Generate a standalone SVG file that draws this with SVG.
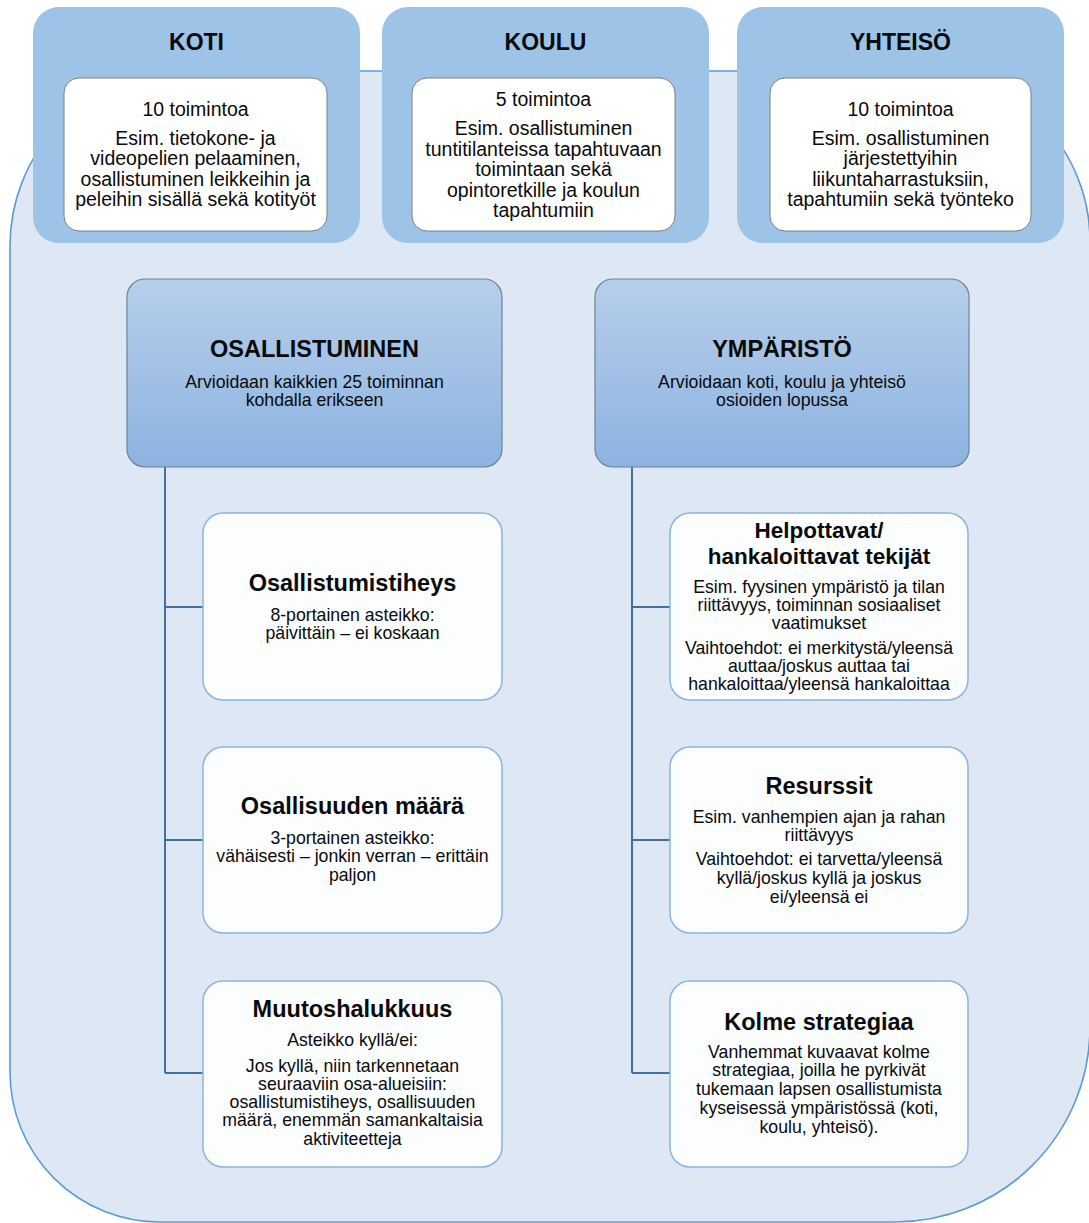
<svg xmlns="http://www.w3.org/2000/svg" width="1089" height="1223" viewBox="0 0 1089 1223">
<defs>
<linearGradient id="hdr" x1="0" y1="0" x2="0" y2="1">
<stop offset="0" stop-color="#b6cfea"/>
<stop offset="1" stop-color="#8db3e1"/>
</linearGradient>
<style>
text{font-family:"Liberation Sans",Arial,sans-serif;fill:#0a0a0a;text-anchor:middle}
.t{font-size:23.5px;font-weight:bold}
.t2{font-size:22.5px;font-weight:bold}
.tt{font-size:23px;font-weight:bold}
.s{font-size:19.5px}
.m{font-size:17.7px}
.outer{fill:#9dc3e6}
.inner{fill:#ffffff;stroke:#7f7f7f;stroke-width:1}
.hdr{fill:url(#hdr);stroke:#6f8296;stroke-width:1.2}
.box{fill:#fbfdff;stroke:#8ab4e1;stroke-width:1.5}
.con{fill:none;stroke:#41719c;stroke-width:2}
</style>
</defs>
<rect width="1089" height="1223" fill="#ffffff"/>
<path id="background" d="M185,71 H920 A170,170 0 0 1 1090,241 V1027 A195,195 0 0 1 895,1222 H160 A150,150 0 0 1 10,1072 V246 A175,175 0 0 1 185,71 Z" fill="#dde8f4" stroke="#5b9bd5" stroke-width="1.6"/>

<g id="koti">
<rect class="outer" x="33" y="7" width="327" height="236" rx="26"/>
<rect class="inner" x="64" y="78" width="263" height="153" rx="15"/>
<text class="tt" x="196.5" y="50">KOTI</text>
<text class="s" x="195.5" y="116">10 toimintoa</text>
<text class="s" x="195.5" y="145">Esim. tietokone- ja</text>
<text class="s" x="195.5" y="165">videopelien pelaaminen,</text>
<text class="s" x="195.5" y="186">osallistuminen leikkeihin ja</text>
<text class="s" x="195.5" y="206">peleihin sisällä sekä kotityöt</text>
</g>

<g id="koulu">
<rect class="outer" x="382" y="7" width="327" height="236" rx="26"/>
<rect class="inner" x="412" y="78" width="263" height="153" rx="15"/>
<text class="tt" x="545.5" y="50">KOULU</text>
<text class="s" x="543.5" y="106">5 toimintoa</text>
<text class="s" x="543.5" y="135">Esim. osallistuminen</text>
<text class="s" x="543.5" y="156">tuntitilanteissa tapahtuvaan</text>
<text class="s" x="543.5" y="176">toimintaan sekä</text>
<text class="s" x="543.5" y="197">opintoretkille ja koulun</text>
<text class="s" x="543.5" y="217">tapahtumiin</text>
</g>

<g id="yhteiso">
<rect class="outer" x="737" y="7" width="327" height="236" rx="26"/>
<rect class="inner" x="770" y="78" width="261" height="153" rx="15"/>
<text class="tt" x="900.5" y="50">YHTEISÖ</text>
<text class="s" x="900.5" y="116">10 toimintoa</text>
<text class="s" x="900.5" y="145">Esim. osallistuminen</text>
<text class="s" x="900.5" y="165">järjestettyihin</text>
<text class="s" x="900.5" y="186">liikuntaharrastuksiin,</text>
<text class="s" x="900.5" y="206">tapahtumiin sekä työnteko</text>
</g>

<g id="connectors">
<path class="con" d="M165,467 V1073 M165,607 H203 M165,840 H203 M165,1073 H203"/>
<path class="con" d="M632,467 V1073 M632,607 H670 M632,840 H670 M632,1073 H670"/>
</g>

<g id="osallistuminen">
<rect class="hdr" x="127" y="279" width="375" height="188" rx="18"/>
<text class="t" x="314.5" y="357">OSALLISTUMINEN</text>
<text class="m" x="314.5" y="388">Arvioidaan kaikkien 25 toiminnan</text>
<text class="m" x="314.5" y="406">kohdalla erikseen</text>
</g>

<g id="ymparisto">
<rect class="hdr" x="595" y="279" width="374" height="188" rx="18"/>
<text class="t" x="782" y="357">YMPÄRISTÖ</text>
<text class="m" x="782" y="388">Arvioidaan koti, koulu ja yhteisö</text>
<text class="m" x="782" y="406">osioiden lopussa</text>
</g>

<g id="osallistumistiheys">
<rect class="box" x="203" y="513" width="299" height="187" rx="20"/>
<text class="t" x="352.5" y="591">Osallistumistiheys</text>
<text class="m" x="352.5" y="621">8-portainen asteikko:</text>
<text class="m" x="352.5" y="639">päivittäin – ei koskaan</text>
</g>

<g id="osallisuuden-maara">
<rect class="box" x="203" y="747" width="299" height="186" rx="20"/>
<text class="t" x="352.5" y="814">Osallisuuden määrä</text>
<text class="m" x="352.5" y="844">3-portainen asteikko:</text>
<text class="m" x="352.5" y="862">vähäisesti – jonkin verran – erittäin</text>
<text class="m" x="352.5" y="881">paljon</text>
</g>

<g id="muutoshalukkuus">
<rect class="box" x="203" y="981" width="299" height="186" rx="20"/>
<text class="t" x="352.5" y="1017">Muutoshalukkuus</text>
<text class="m" x="352.5" y="1046">Asteikko kyllä/ei:</text>
<text class="m" x="352.5" y="1072">Jos kyllä, niin tarkennetaan</text>
<text class="m" x="352.5" y="1090">seuraaviin osa-alueisiin:</text>
<text class="m" x="352.5" y="1108">osallistumistiheys, osallisuuden</text>
<text class="m" x="352.5" y="1126">määrä, enemmän samankaltaisia</text>
<text class="m" x="352.5" y="1145">aktiviteetteja</text>
</g>

<g id="helpottavat">
<rect class="box" x="670" y="513" width="298" height="187" rx="20"/>
<text class="t2" x="819" y="538">Helpottavat/</text>
<text class="t2" x="819" y="564">hankaloittavat tekijät</text>
<text class="m" x="819" y="593">Esim. fyysinen ympäristö ja tilan</text>
<text class="m" x="819" y="611">riittävyys, toiminnan sosiaaliset</text>
<text class="m" x="819" y="629">vaatimukset</text>
<text class="m" x="819" y="654">Vaihtoehdot: ei merkitystä/yleensä</text>
<text class="m" x="819" y="672">auttaa/joskus auttaa tai</text>
<text class="m" x="819" y="690">hankaloittaa/yleensä hankaloittaa</text>
</g>

<g id="resurssit">
<rect class="box" x="670" y="747" width="298" height="186" rx="20"/>
<text class="t" x="819" y="794">Resurssit</text>
<text class="m" x="819" y="823">Esim. vanhempien ajan ja rahan</text>
<text class="m" x="819" y="841">riittävyys</text>
<text class="m" x="819" y="865">Vaihtoehdot: ei tarvetta/yleensä</text>
<text class="m" x="819" y="884">kyllä/joskus kyllä ja joskus</text>
<text class="m" x="819" y="903">ei/yleensä ei</text>
</g>

<g id="kolme-strategiaa">
<rect class="box" x="670" y="981" width="298" height="186" rx="20"/>
<text class="t" x="819" y="1030">Kolme strategiaa</text>
<text class="m" x="819" y="1058">Vanhemmat kuvaavat  kolme</text>
<text class="m" x="819" y="1076">strategiaa, joilla he pyrkivät</text>
<text class="m" x="819" y="1095">tukemaan lapsen osallistumista</text>
<text class="m" x="819" y="1114">kyseisessä ympäristössä (koti,</text>
<text class="m" x="819" y="1133">koulu, yhteisö).</text>
</g>
</svg>
